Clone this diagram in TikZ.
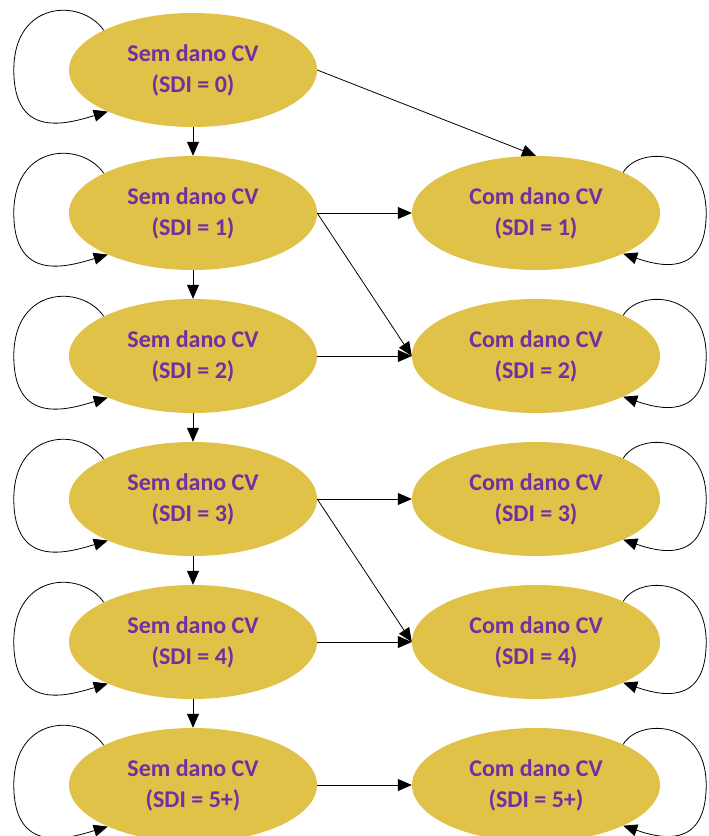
\documentclass[tikz,border=0pt]{standalone}
\usepackage{fontspec}
\setmainfont{Carlito}
\usetikzlibrary{arrows.meta,shapes.geometric}
\definecolor{gold}{RGB}{225,194,72}
\definecolor{purp}{RGB}{112,48,160}
\tikzset{
  state/.style={ellipse, fill=gold, draw=none, minimum width=248pt, minimum height=114pt, inner sep=0pt,
    align=center, text=purp, font=\fontsize{24}{31}\selectfont\bfseries},
  conn/.style={line width=0.8pt, -{Triangle[length=14pt,width=12pt]}},
}
\begin{document}
\begin{tikzpicture}[x=1pt,y=-1pt]
\useasboundingbox (0,0) rectangle (709,836);
\clip (0,0) rectangle (709,836);
\node[state] (s0) at (193,70) {Sem dano CV\\(SDI = 0)};
\node[state] (s1) at (193,213) {Sem dano CV\\(SDI = 1)};
\node[state] (s2) at (193,356) {Sem dano CV\\(SDI = 2)};
\node[state] (s3) at (193,499) {Sem dano CV\\(SDI = 3)};
\node[state] (s4) at (193,642) {Sem dano CV\\(SDI = 4)};
\node[state] (s5) at (193,785) {Sem dano CV\\(SDI = 5+)};
\node[state] (c1) at (536,213) {Com dano CV\\(SDI = 1)};
\node[state] (c2) at (536,356) {Com dano CV\\(SDI = 2)};
\node[state] (c3) at (536,499) {Com dano CV\\(SDI = 3)};
\node[state] (c4) at (536,642) {Com dano CV\\(SDI = 4)};
\node[state] (c5) at (536,785) {Com dano CV\\(SDI = 5+)};
\foreach \n in {s0,s1,s2,s3,s4,s5}{
  \coordinate (l\n) at ([xshift=-55pt]\n.west);
  \draw[conn] (\n.156) .. controls +(-22,-32) and +(0,-70) .. (l\n) .. controls +(0,70) and +(-40,12) .. (\n.206);
}
\foreach \n in {c1,c2,c3,c4,c5}{
  \coordinate (r\n) at ([xshift=46pt]\n.east);
  \draw[conn] (\n.25) .. controls +(15,-26) and +(0,-66) .. (r\n) .. controls +(0,66) and +(35,12) .. (\n.335);
}
\draw[conn] (s0.south) -- (s1.north);
\draw[conn] (s1.south) -- (s2.north);
\draw[conn] (s2.south) -- (s3.north);
\draw[conn] (s3.south) -- (s4.north);
\draw[conn] (s4.south) -- (s5.north);
\draw[conn] (s0.east) -- (c1.north);
\draw[conn] (s1.east) -- (c1.west);
\draw[conn] (s1.east) -- (c2.west);
\draw[conn] (s2.east) -- (c2.west);
\draw[conn] (s3.east) -- (c3.west);
\draw[conn] (s3.east) -- (c4.west);
\draw[conn] (s4.east) -- (c4.west);
\draw[conn] (s5.east) -- (c5.west);
\end{tikzpicture}
\end{document}
